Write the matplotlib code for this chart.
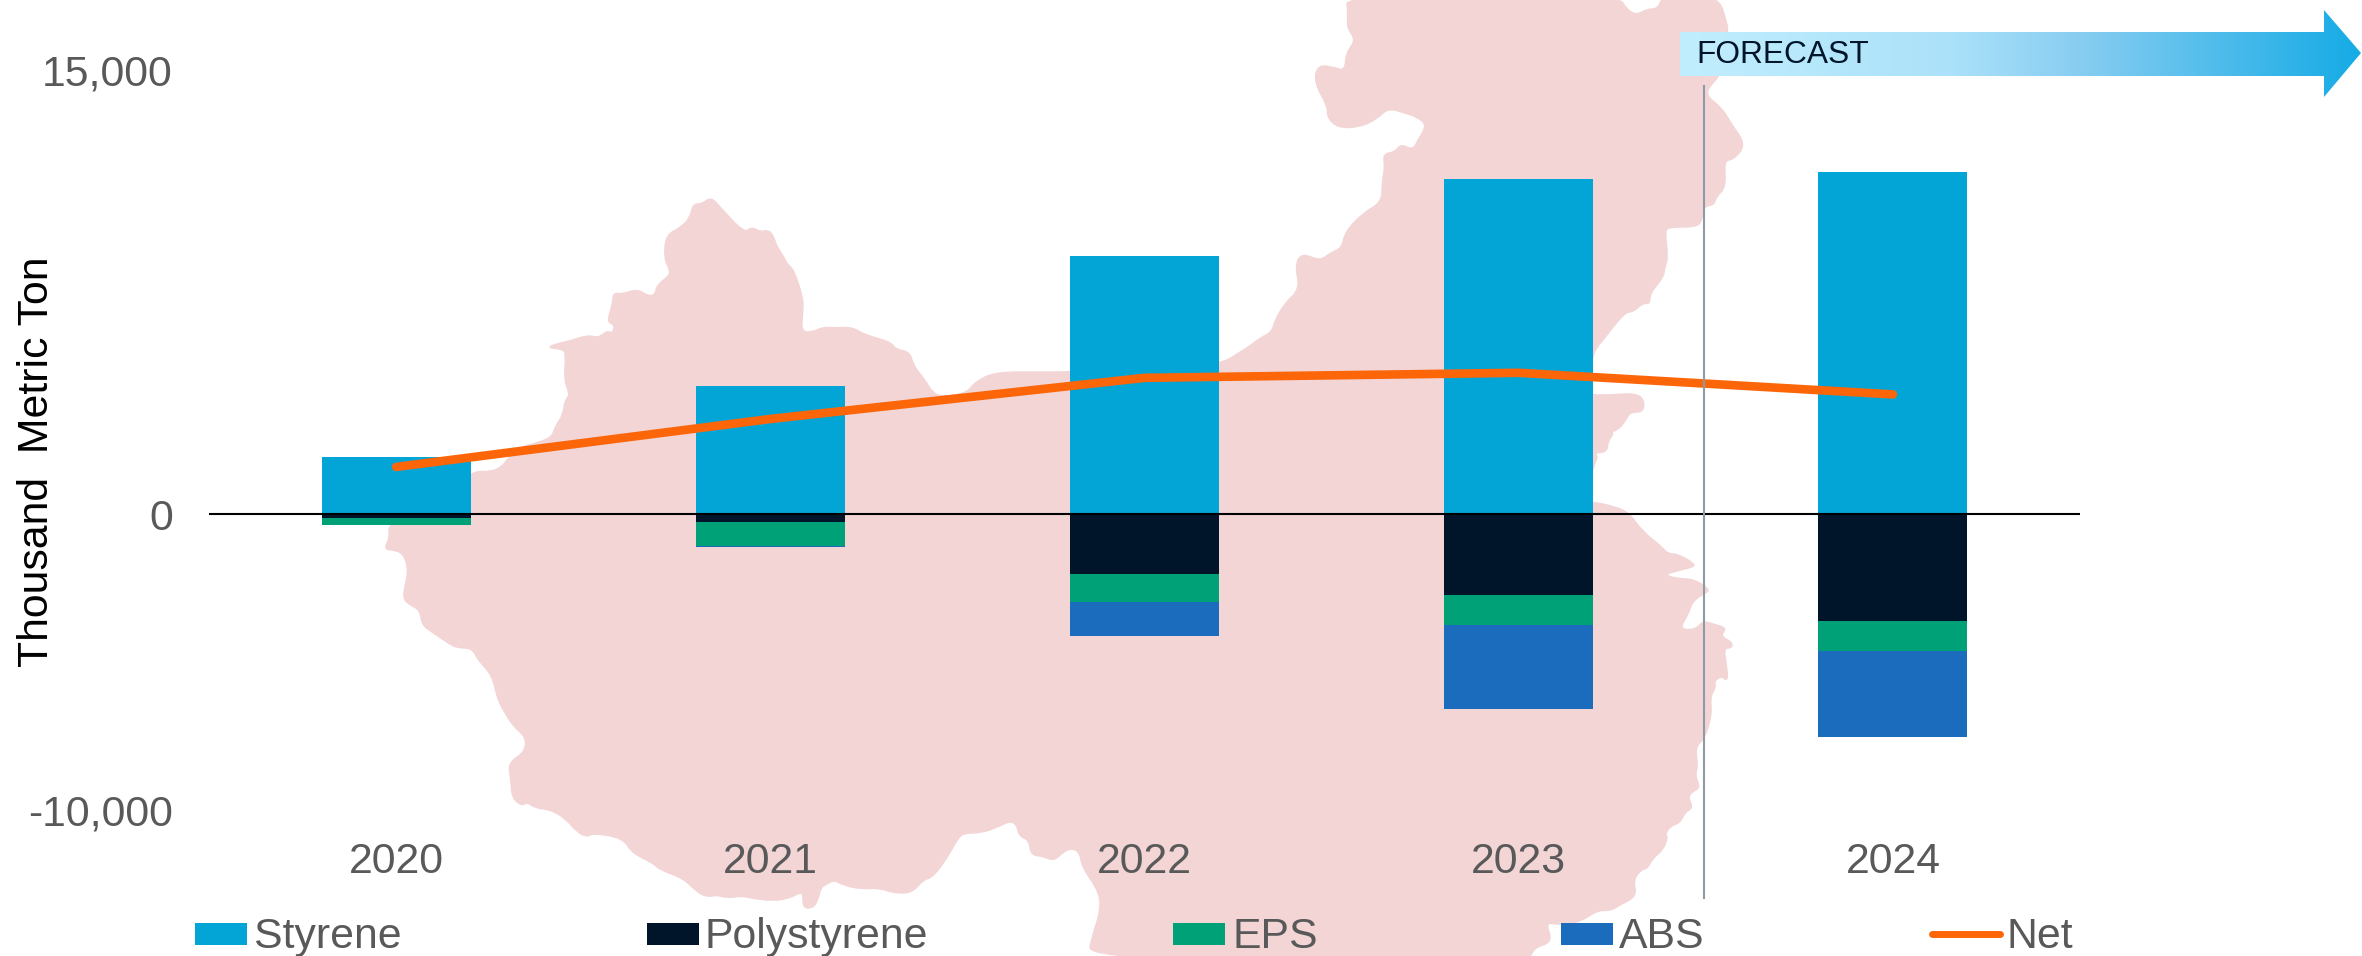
import numpy as np
import matplotlib
matplotlib.use('Agg')
import matplotlib.pyplot as plt
from matplotlib.colors import LinearSegmentedColormap
from matplotlib.patches import PathPatch, Polygon, Rectangle
from matplotlib.path import Path

plt.rcParams['font.family'] = ['Liberation Sans', 'DejaVu Sans']

# Datos
years = ['2020', '2021', '2022', '2023', '2024']
styrene = [1925, 4325, 8716, 11330, 11550]
polystyrene = [-135, -270, -2030, -2740, -3600]
eps = [-235, -810, -950, -1000, -1020]
abs_resin = [0, -40, -1150, -2850, -2930]
net = [1590, 3210, 4600, 4770, 4040]
y_ticks = [-10000, 0, 15000]
y_tick_labels = ['-10,000', '0', '15,000']
series_names = ['Styrene', 'Polystyrene', 'EPS', 'ABS', 'Net']

colors = ['#03A5D7', '#001529', '#00A176', '#1B6CBD', '#FC6508']

# Silueta del mapa de fondo, en pixeles de la imagen
map_outline = [
    (388, 527), (400, 520), (471, 471), (490, 472), (502, 467), (508, 458), (520, 447), (537, 443),
    (552, 437), (555, 427), (563, 415), (565, 400), (570, 395), (564, 380), (566, 353), (562, 349),
    (549, 348), (552, 345), (570, 341), (588, 335), (598, 338), (607, 331), (611, 333), (614, 330),
    (614, 324), (607, 322), (613, 303), (613, 293), (623, 294), (637, 289), (648, 296), (655, 295),
    (657, 285), (669, 276), (670, 270), (664, 258), (666, 235), (680, 228), (690, 218), (693, 204),
    (702, 204), (711, 197), (720, 207), (744, 233), (752, 227), (760, 232), (768, 230), (773, 235),
    (777, 247), (784, 257), (787, 264), (794, 270), (803, 298), (803, 310), (801, 332), (813, 332),
    (823, 327), (833, 328), (852, 327), (865, 335), (891, 342), (895, 349), (910, 352), (913, 365),
    (925, 380), (932, 392), (942, 397), (967, 393), (975, 382), (995, 372), (1040, 372), (1070, 372),
    (1200, 365), (1225, 362), (1240, 352), (1250, 346), (1260, 338), (1272, 332), (1275, 320),
    (1285, 303), (1300, 289), (1295, 265), (1302, 253), (1320, 261), (1330, 253), (1342, 248),
    (1345, 232), (1363, 213), (1382, 202), (1382, 183), (1385, 167), (1383, 154), (1395, 152),
    (1401, 144), (1413, 150), (1418, 140), (1427, 125), (1417, 117), (1405, 113), (1388, 108),
    (1377, 119), (1360, 127), (1338, 128), (1327, 117), (1328, 107), (1314, 82), (1318, 65),
    (1333, 67), (1345, 71), (1346, 53), (1356, 40), (1347, 28), (1348, 13), (1346, -5),
    (1618, -5), (1627, 10), (1637, 15), (1647, 9), (1658, 9), (1663, -5), (1718, -5), (1727, 23),
    (1728, 32), (1720, 76), (1712, 83), (1705, 95), (1722, 108), (1732, 125), (1746, 145),
    (1733, 160), (1724, 160), (1726, 187), (1716, 197), (1714, 205), (1704, 206), (1702, 220),
    (1697, 227), (1668, 227), (1665, 232), (1668, 257), (1665, 267), (1663, 278), (1650, 293),
    (1650, 304), (1643, 303), (1633, 312), (1625, 312), (1603, 340), (1597, 347), (1593, 355),
    (1585, 395), (1610, 395), (1642, 393), (1645, 412), (1630, 412), (1626, 420), (1618, 430),
    (1610, 432), (1614, 433), (1608, 441), (1607, 452), (1594, 453), (1598, 457), (1594, 464),
    (1585, 502), (1593, 502), (1617, 507), (1630, 514), (1642, 531), (1662, 547), (1668, 554),
    (1678, 554), (1695, 564), (1693, 567), (1680, 570), (1663, 575), (1680, 579), (1693, 579),
    (1708, 588), (1708, 592), (1693, 600), (1688, 615), (1679, 629), (1695, 630), (1703, 621),
    (1713, 624), (1727, 628), (1720, 636), (1732, 642), (1732, 648), (1724, 648), (1726, 663),
    (1728, 678), (1725, 680), (1722, 676), (1714, 681), (1716, 687), (1710, 697), (1712, 714),
    (1705, 738), (1695, 747), (1698, 766), (1695, 775), (1700, 788), (1693, 791), (1688, 797),
    (1693, 808), (1685, 812), (1680, 823), (1670, 826), (1665, 835), (1668, 837), (1663, 850),
    (1653, 858), (1647, 869), (1642, 869), (1633, 880), (1637, 896), (1620, 905), (1610, 911),
    (1598, 910), (1580, 922), (1560, 925), (1545, 922), (1553, 942), (1533, 948), (1530, 961),
    (1087, 961), (1093, 933), (1100, 913), (1100, 893), (1082, 867), (1080, 853), (1072, 848),
    (1063, 852), (1054, 861), (1042, 856), (1031, 855), (1029, 840), (1019, 836), (1017, 825),
    (1010, 821), (1000, 826), (982, 833), (963, 833), (957, 840), (947, 858), (933, 877),
    (923, 880), (912, 893), (893, 893), (880, 888), (860, 889), (843, 885), (834, 880), (827, 884),
    (821, 887), (818, 900), (813, 908), (803, 908), (803, 893), (799, 893), (790, 898), (773, 901),
    (750, 898), (743, 896), (727, 898), (717, 895), (707, 897), (697, 892), (683, 878), (660, 870),
    (653, 863), (632, 853), (623, 838), (593, 833), (587, 837), (577, 832), (567, 820), (552, 810),
    (535, 808), (527, 802), (522, 806), (512, 798), (511, 780), (508, 763), (525, 752), (526, 737),
    (513, 726), (502, 708), (497, 697), (492, 675), (478, 660), (472, 648), (457, 648), (448, 643),
    (432, 632), (422, 625), (420, 610), (410, 605), (402, 598), (409, 570), (403, 553), (393, 550),
    (384, 549), (390, 537),
]

# Flecha del pronostico, en pixeles
arrow_outline = [(1680, 32), (2324, 32), (2324, 10), (2361, 53), (2324, 97), (2324, 76), (1680, 76)]


# Contorno suavizado: cada vertice hace de punto de control de una curva
def smooth_path(points):
    pts = np.array(points, dtype=float)
    mids = (pts + np.roll(pts, -1, axis=0)) / 2
    verts = [mids[-1]]
    codes = [Path.MOVETO]
    for p, m in zip(pts, mids):
        verts += [p, m]
        codes += [Path.CURVE3, Path.CURVE3]
    return Path(verts, codes)


W, H = 2362, 956
fig = plt.figure(figsize=(W / 100, H / 100), dpi=100)

# Capa de fondo: el mapa
bg = fig.add_axes([0, 0, 1, 1], zorder=0)
bg.set_xlim(0, W)
bg.set_ylim(H, 0)
bg.axis('off')
bg.add_patch(PathPatch(smooth_path(map_outline), facecolor='#F3D5D6', edgecolor='#F3D5D6', linewidth=1))

# Grafica principal
ax = fig.add_axes([209 / W, (H - 810) / H, 1871 / W, 740 / H], zorder=1)
ax.patch.set_alpha(0)
x = np.arange(len(years))
bar_w = 149 / 374

ax.bar(x, styrene, bar_w, color=colors[0])
ax.bar(x, polystyrene, bar_w, color=colors[1])
bottom = np.array(polystyrene)
ax.bar(x, eps, bar_w, bottom=bottom, color=colors[2])
bottom = bottom + np.array(eps)
ax.bar(x, abs_resin, bar_w, bottom=bottom, color=colors[3])
ax.plot(x, net, color=colors[4], linewidth=6.2, solid_capstyle='round', zorder=4)

ax.axhline(0, color='black', linewidth=1.5, zorder=3)
ax.set_xlim(-0.5, 4.5)
ax.set_ylim(-10000, 15000)
ax.set_xticks(x)
ax.set_xticklabels(years)
ax.set_yticks(y_ticks)
ax.set_yticklabels(y_tick_labels)
ax.tick_params(axis='x', length=0, pad=23, labelsize=30.8, labelcolor='#595959')
ax.tick_params(axis='y', length=0, pad=26, labelsize=30.8, labelcolor='#595959')
for s in ax.spines.values():
    s.set_visible(False)

# Capa superior: linea vertical, flecha, leyenda
top = fig.add_axes([0, 0, 1, 1], zorder=2)
top.set_xlim(0, W)
top.set_ylim(H, 0)
top.axis('off')
top.plot([1703.5, 1703.5], [86, 898], color='#8E9BA6', linewidth=1.5)

cmap = LinearSegmentedColormap.from_list(
    'forecast', [(0, '#C1EEFE'), (0.4, '#ABE1F9'), (0.6, '#85CCF1'), (1, '#15ABE5')])
grad = top.imshow(np.linspace(0, 1, 256).reshape(1, -1), cmap=cmap, aspect='auto',
                  extent=(1680, 2361, 97, 10), zorder=3)
clip = Polygon(arrow_outline, closed=True, transform=top.transData)
grad.set_clip_path(clip)
top.set_xlim(0, W)
top.set_ylim(H, 0)
top.text(1696, 55, 'FORECAST', fontsize=22.9, color='#001529', va='center', ha='left', zorder=4)

top.text(37, 462, 'Thousand  Metric Ton', fontsize=30.8, color='black', rotation=90,
         ha='center', va='center')

# Leyenda colocada a mano, con los espacios desiguales del original
swatch_x = [195, 647, 1173, 1561]
label_x = [254, 705, 1232, 1619]
for i in range(4):
    top.add_patch(Rectangle((swatch_x[i], 923), 52, 22, facecolor=colors[i], edgecolor='none'))
    top.text(label_x[i], 948, series_names[i], fontsize=30.8, color='#595959', ha='left', va='baseline')
top.plot([1932, 2000], [934, 934], color=colors[4], linewidth=5, solid_capstyle='round')
top.text(2006, 948, series_names[4], fontsize=30.8, color='#595959', ha='left', va='baseline')

fig.savefig('out.png', dpi=100)
